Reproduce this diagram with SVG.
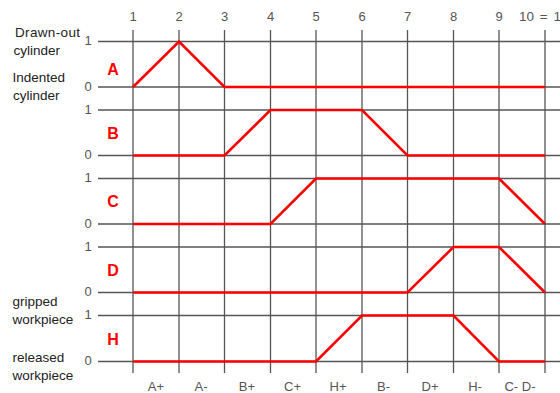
<svg xmlns="http://www.w3.org/2000/svg" width="560" height="393" viewBox="0 0 560 393">
<style>
.grid line{stroke:#555;stroke-width:1.3}
.num{font-family:"Liberation Sans",Arial,sans-serif;font-size:13.5px;fill:#555}
.lvl{font-family:"Liberation Sans",Arial,sans-serif;font-size:13px;fill:#555;text-anchor:middle}
.step{font-family:"Liberation Sans",Arial,sans-serif;font-size:13px;fill:#555;text-anchor:middle}
.desc{font-family:"Liberation Sans",Arial,sans-serif;font-size:13.5px;fill:#222}
.let{font-family:"Liberation Sans",Arial,sans-serif;font-size:16px;font-weight:bold;fill:#f00;text-anchor:middle}
.trace{fill:none;stroke:#f00;stroke-width:2.6;stroke-linejoin:miter}
</style>
<rect width="560" height="393" fill="#fff"/>
<g id="grid" class="grid">
<line x1="133" y1="30" x2="133" y2="373"/>
<line x1="179" y1="30" x2="179" y2="373"/>
<line x1="224.5" y1="30" x2="224.5" y2="373"/>
<line x1="270.5" y1="30" x2="270.5" y2="373"/>
<line x1="316" y1="30" x2="316" y2="373"/>
<line x1="362" y1="30" x2="362" y2="373"/>
<line x1="407.5" y1="30" x2="407.5" y2="373"/>
<line x1="453.5" y1="30" x2="453.5" y2="373"/>
<line x1="499" y1="30" x2="499" y2="373"/>
<line x1="545" y1="30" x2="545" y2="373"/>
<line x1="98" y1="41.5" x2="560" y2="41.5"/>
<line x1="98" y1="87" x2="560" y2="87"/>
<line x1="98" y1="110" x2="560" y2="110"/>
<line x1="98" y1="155.5" x2="560" y2="155.5"/>
<line x1="98" y1="178.5" x2="560" y2="178.5"/>
<line x1="98" y1="224" x2="560" y2="224"/>
<line x1="98" y1="247" x2="560" y2="247"/>
<line x1="98" y1="292.5" x2="560" y2="292.5"/>
<line x1="98" y1="315.5" x2="560" y2="315.5"/>
<line x1="98" y1="361.5" x2="560" y2="361.5"/>
</g>
<g id="top-steps">
<text class="step" x="133" y="20.5">1</text>
<text class="step" x="179" y="20.5">2</text>
<text class="step" x="224.5" y="20.5">3</text>
<text class="step" x="270.5" y="20.5">4</text>
<text class="step" x="316" y="20.5">5</text>
<text class="step" x="362" y="20.5">6</text>
<text class="step" x="407.5" y="20.5">7</text>
<text class="step" x="453.5" y="20.5">8</text>
<text class="step" x="499" y="20.5">9</text>
<text class="num" x="519" y="20.5" word-spacing="2">10 = 1</text>
</g>
<g id="descriptions">
<text class="desc" x="15" y="36.5" textLength="65">Drawn-out</text>
<text class="desc" x="13.5" y="54.5">cylinder</text>
<text class="desc" x="12.5" y="81.5">Indented</text>
<text class="desc" x="13" y="100">cylinder</text>
<text class="desc" x="12.5" y="306">gripped</text>
<text class="desc" x="12.5" y="324">workpiece</text>
<text class="desc" x="12.5" y="361.5">released</text>
<text class="desc" x="12.5" y="380">workpiece</text>
</g>
<g id="row-A">
<text class="lvl" x="88" y="45">1</text>
<text class="lvl" x="88" y="90.5">0</text>
<text class="let" x="113" y="75">A</text>
<polyline class="trace" points="133,87 179,41.5 224.5,87 545,87"/>
</g>
<g id="row-B">
<text class="lvl" x="88" y="113.5">1</text>
<text class="lvl" x="88" y="159">0</text>
<text class="let" x="113" y="139">B</text>
<polyline class="trace" points="133,155.5 224.5,155.5 270.5,110 362,110 407.5,155.5 545,155.5"/>
</g>
<g id="row-C">
<text class="lvl" x="88" y="182">1</text>
<text class="lvl" x="88" y="227.5">0</text>
<text class="let" x="113" y="207">C</text>
<polyline class="trace" points="133,224 270.5,224 316,178.5 499,178.5 545,224"/>
</g>
<g id="row-D">
<text class="lvl" x="88" y="250.5">1</text>
<text class="lvl" x="88" y="296">0</text>
<text class="let" x="113" y="275.5">D</text>
<polyline class="trace" points="133,292.5 407.5,292.5 453.5,247 499,247 545,292.5"/>
</g>
<g id="row-H">
<text class="lvl" x="88" y="319">1</text>
<text class="lvl" x="88" y="365">0</text>
<text class="let" x="113" y="344.5">H</text>
<polyline class="trace" points="133,361.5 316,361.5 362,315.5 453.5,315.5 499,361.5 545,361.5"/>
</g>
<g id="bottom-steps">
<text class="step" x="156" y="390.5">A+</text>
<text class="step" x="201" y="390.5">A-</text>
<text class="step" x="247" y="390.5">B+</text>
<text class="step" x="292.5" y="390.5">C+</text>
<text class="step" x="338" y="390.5">H+</text>
<text class="step" x="383.5" y="390.5">B-</text>
<text class="step" x="430" y="390.5">D+</text>
<text class="step" x="475" y="390.5">H-</text>
<text class="step" x="520" y="390.5">C- D-</text>
</g>
</svg>
